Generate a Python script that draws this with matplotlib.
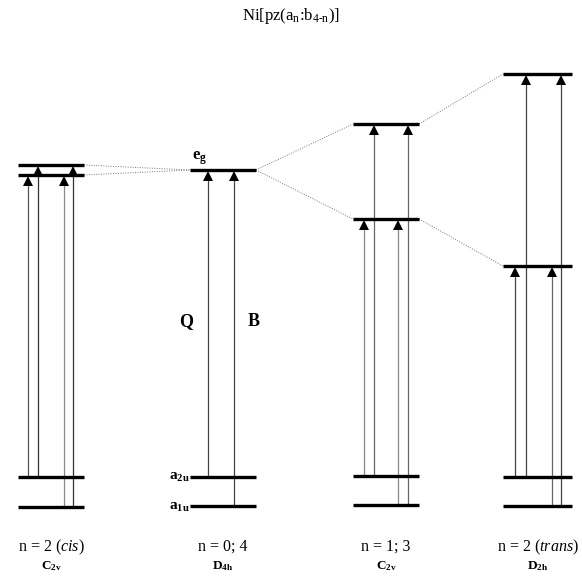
import matplotlib
matplotlib.use('Agg')
import matplotlib.pyplot as plt

plt.rcParams['font.family'] = ['Liberation Serif', 'DejaVu Serif']
plt.rcParams['mathtext.fontset'] = 'custom'
plt.rcParams['mathtext.rm'] = 'Liberation Serif'
plt.rcParams['mathtext.it'] = 'Liberation Serif:italic'
plt.rcParams['mathtext.bf'] = 'Liberation Serif:bold'

# dane: poziomy energetyczne (wspolrzedne w pikselach obrazka, y w dol)
grupy = ['n = 2 (cis)', 'n = 0; 4', 'n = 1; 3', 'n = 2 (trans)']
symetrie = ['C', 'D', 'C', 'D']
sym_sub = ['2v', '4h', '2v', '2h']
x_od = [18, 190, 353, 503]
x_do = [84, 256, 419, 572]
eg = [[165, 175], [170], [124, 219], [74, 266]]
a2u = [477, 477, 476, 477]
a1u = [507, 506, 505, 506]

# strzalki: (grupa, x, start: 'a2u'/'a1u', indeks poziomu eg, kolor)
strzalki = [
    (0, 28, 'a2u', 1, '#555555'), (0, 38, 'a2u', 0, '#333333'),
    (0, 64, 'a1u', 1, '#888888'), (0, 73, 'a1u', 0, '#333333'),
    (1, 208, 'a2u', 0, '#444444'), (1, 234, 'a1u', 0, '#444444'),
    (2, 364, 'a2u', 1, '#888888'), (2, 374, 'a2u', 0, '#666666'),
    (2, 398, 'a1u', 1, '#888888'), (2, 408, 'a1u', 0, '#666666'),
    (3, 515, 'a2u', 1, '#444444'), (3, 526, 'a2u', 0, '#444444'),
    (3, 552, 'a1u', 1, '#666666'), (3, 561, 'a1u', 0, '#444444'),
]

fig = plt.figure(figsize=(5.82, 5.76), dpi=100)
ax = fig.add_axes([0, 0, 1, 1])
ax.set_xlim(0, 582)
ax.set_ylim(576, 0)
ax.axis('off')

# linie kropkowane miedzy poziomami eg
for i in range(3):
    for j in range(len(eg[i])):
        for k in range(len(eg[i + 1])):
            if len(eg[i]) == len(eg[i + 1]) and j != k:
                continue
            ax.plot([x_do[i], x_od[i + 1]], [eg[i][j], eg[i + 1][k]],
                    ls=(0, (1, 1.5)), lw=0.7, color='#777777')

# strzalki
for g, x, start, idx, kol in strzalki:
    y0 = a2u[g] if start == 'a2u' else a1u[g]
    y1 = eg[g][idx]
    ax.plot([x, x], [y0, y1 + 6], lw=0.9, color=kol, zorder=2)
    ax.plot(x, y1 + 6, marker='^', ms=6.5, color='black', mew=0, zorder=3)

# poziomy
for i in range(4):
    for y in eg[i] + [a2u[i], a1u[i]]:
        ax.plot([x_od[i], x_do[i]], [y, y], lw=2.4, color='black',
                solid_capstyle='butt', zorder=4)

ax.text(291, 16, 'Ni[pz(a$_\\mathregular{n}$:b$_\\mathregular{4\u2010n}$)]',
        ha='center', va='center', fontsize=12)
ax.text(192, 160, r'e$_\mathregular{g}$', ha='left', va='baseline',
        fontsize=12, fontweight='bold')
ax.text(169, 480, r'a$_\mathregular{2u}$', ha='left', va='baseline',
        fontsize=11, fontweight='bold')
ax.text(169, 510, r'a$_\mathregular{1u}$', ha='left', va='baseline',
        fontsize=11, fontweight='bold')
ax.text(186, 322, 'Q', ha='center', va='center', fontsize=13, fontweight='bold')
ax.text(254, 322, 'B', ha='center', va='center', fontsize=13, fontweight='bold')

srodki = [(a + b) / 2 for a, b in zip(x_od, x_do)]
etykiety = [r'n = 2 ($\mathit{cis}$)', 'n = 0; 4', 'n = 1; 3',
            r'n = 2 ($\mathit{trans}$)']
for i in range(4):
    ax.text(srodki[i], 547, etykiety[i], ha='center', va='center', fontsize=11.5)
    ax.text(srodki[i], 569, symetrie[i] + r'$_\mathregular{' + sym_sub[i] + '}$',
            ha='center', va='baseline', fontsize=9.5, fontweight='bold')

fig.savefig('out.png', dpi=100)
